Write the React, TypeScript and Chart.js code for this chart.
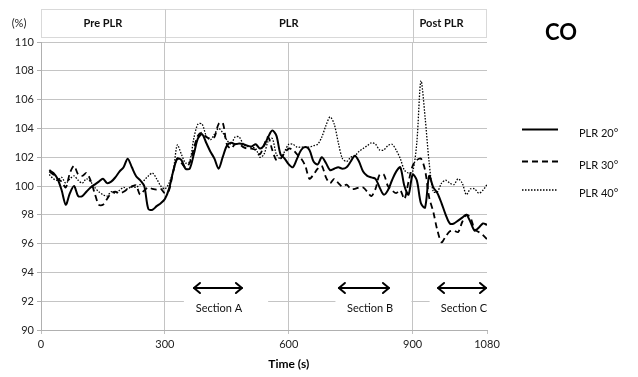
import { useEffect, useRef } from 'react';
import { Chart, registerables } from 'chart.js';

Chart.register(...registerables);

// ---- data ----
const times = [
  20, 30, 40, 50, 60, 70, 80, 90, 100, 110,
  120, 130, 140, 150, 160, 170, 180, 190, 200, 210,
  220, 230, 240, 250, 260, 270, 280, 290, 300, 310,
  320, 330, 340, 350, 360, 370, 380, 390, 400, 410,
  420, 430, 440, 450, 460, 470, 480, 490, 500, 510,
  520, 530, 540, 550, 560, 570, 580, 590, 600, 610,
  620, 630, 640, 650, 660, 670, 680, 690, 700, 710,
  720, 730, 740, 750, 760, 770, 780, 790, 800, 810,
  820, 830, 840, 850, 860, 870, 880, 890, 900, 910,
  920, 930, 940, 950, 960, 970, 980, 990, 1000, 1010,
  1020, 1030, 1040, 1050, 1060, 1070, 1080,
];

const plr20 = [
  101.1, 100.9, 100.5, 99.7, 98.7, 99.5, 100.0, 99.3, 99.3, 99.6,
  99.9, 100.1, 100.3, 100.5, 100.2, 100.3, 100.6, 101.0, 101.3, 101.9,
  101.3, 100.7, 100.4, 100.0, 98.4, 98.35, 98.6, 98.8, 99.1, 99.8,
  101.0, 101.9, 101.8, 101.2, 101.2, 102.2, 103.3, 103.6, 103.0, 102.4,
  101.9, 101.2, 102.0, 102.8, 103.0, 102.9, 102.95, 102.9, 102.8, 102.75,
  102.9, 102.6, 102.8, 103.4, 103.85, 103.5, 102.2, 101.9, 101.5, 101.3,
  101.9, 102.5, 102.7, 102.5, 101.7, 101.5, 102.0, 101.6, 101.1, 101.2,
  101.3, 101.2, 101.3, 101.7, 102.1, 101.7, 101.0, 100.7, 100.6, 100.5,
  99.9, 99.4, 99.7, 100.4, 101.0, 101.3, 100.0, 99.4, 100.8, 100.4,
  98.8, 98.5, 100.7, 99.9, 99.5, 98.8, 98.0, 97.4, 97.4, 97.6,
  97.8, 98.0, 97.5, 96.9, 97.1, 97.4, 97.3,
];

const plr30 = [
  101.0, 100.8, 100.5, 100.3, 99.9, 100.9, 101.4, 100.8, 100.7, 100.9,
  100.4, 99.5, 98.7, 98.7, 99.1, 99.5, 99.6, 99.5, 99.6, 99.8,
  99.95, 100.05, 99.4, 99.7, 99.9, 99.8, 99.75, 99.8, 99.5, 99.7,
  101.0, 101.9, 101.6, 101.3, 101.6, 102.6, 103.5, 103.7, 103.4, 103.3,
  103.4, 104.3, 104.4, 102.9, 102.6, 102.9, 102.9, 102.7, 102.6, 102.6,
  102.5, 102.2, 102.85, 103.4, 102.5, 101.8, 101.9, 102.3, 102.6, 102.5,
  102.2, 101.9, 101.4, 100.5, 100.8, 101.2, 101.4, 100.6, 100.2, 100.5,
  100.2, 99.95, 100.1, 99.8, 99.8, 99.9, 99.9, 99.6, 99.3, 99.8,
  100.8, 100.8, 100.0, 99.7, 99.5, 99.7, 99.1, 100.3, 101.4, 101.8,
  101.9, 101.1, 99.2, 98.2, 96.9, 96.1, 96.5, 96.85, 96.9, 96.8,
  97.5, 98.0, 97.8, 97.0, 96.8, 96.6, 96.3,
];

const plr40 = [
  100.8, 100.5, 100.4, 100.6, 100.2, 100.5, 100.7, 100.4, 100.2, 100.5,
  100.3, 99.9, 99.6, 99.4, 99.3, 99.6, 99.5, 99.7, 99.9, 99.8,
  100.0, 99.9, 100.1, 100.4, 100.7, 100.9, 100.5, 100.0, 99.8, 100.2,
  101.0, 102.85, 102.2, 101.6, 101.7, 103.3, 104.3, 104.3, 103.5, 103.2,
  103.6, 104.0, 103.7, 103.2, 102.9, 103.4, 103.4, 102.9, 102.75, 102.7,
  102.6, 102.0, 102.2, 103.1, 103.3, 102.2, 101.9, 102.4, 102.9, 102.9,
  102.7, 102.7, 102.7, 102.7, 102.8, 102.9, 103.4, 104.2, 104.8, 104.3,
  103.0, 101.9, 101.7, 102.0, 102.1, 102.4, 102.6, 102.8, 103.0, 102.9,
  102.5, 102.5, 102.8, 102.9, 102.5, 101.9, 101.1, 100.9, 101.0, 103.0,
  107.3, 104.8, 101.6, 99.6, 99.6, 100.2, 100.4, 100.2, 100.1, 100.5,
  100.2, 99.4, 99.8, 99.8, 99.5, 99.7, 100.1,
];

const seriesLabels = ['PLR 20°', 'PLR 30°', 'PLR 40°'];
const xTicks = [0, 300, 600, 900, 1080];
const xGridAt = [300, 600, 900];
const phaseBounds = [300, 900];
const phaseLabels = ['Pre PLR', 'PLR', 'Post PLR'];
const phaseLabelAt = [150, 600, 970];
const sectionLabels = ['Section A', 'Section B', 'Section C'];
const sectionStart = [368, 719, 959];
const sectionEnd = [489, 845, 1080];
const sectionLabelAt = [431, 797, 1024];
const sectionBoxStart = [346, 713, 941];
const sectionBoxEnd = [550, 897, 1110];
const sectionArrowY = 92.9;
const sectionBoxY = 92;

const FONT = 'Lato, "Liberation Sans", "DejaVu Sans", sans-serif';
const styles = [
  { width: 2, dash: [] as number[] },
  { width: 1.8, dash: [6, 4] },
  { width: 1.3, dash: [1.5, 1.5] },
];

const overlay = {
  id: 'overlay',
  beforeDatasetsDraw(chart: any) {
    const { ctx, scales } = chart;
    const x = scales.x;
    const y = scales.y;
    ctx.save();
    ctx.fillStyle = '#ffffff';
    const yc = y.getPixelForValue(sectionBoxY);
    for (let i = 0; i < sectionLabels.length; i++) {
      const x0 = x.getPixelForValue(sectionBoxStart[i]);
      const x1 = Math.min(x.getPixelForValue(sectionBoxEnd[i]), chart.width);
      ctx.fillRect(x0, yc - 9, x1 - x0, 24);
    }
    ctx.restore();
  },
  afterDraw(chart: any) {
    const { ctx, scales, chartArea } = chart;
    const x = scales.x;
    const y = scales.y;
    ctx.save();
    // header box
    const hTop = 9.5;
    const hBot = 37.5;
    ctx.strokeStyle = '#d9d9d9';
    ctx.lineWidth = 1;
    ctx.strokeRect(chartArea.left + 0.5, hTop, chartArea.right - chartArea.left - 1, hBot - hTop);
    for (const b of phaseBounds) {
      const px = Math.round(x.getPixelForValue(b)) + 0.5;
      ctx.strokeStyle = '#c8c8c8';
      ctx.lineWidth = 1;
      ctx.beginPath();
      ctx.moveTo(px, hTop);
      ctx.lineTo(px, chartArea.top);
      ctx.stroke();
    }
    ctx.fillStyle = '#111';
    ctx.textAlign = 'center';
    ctx.textBaseline = 'middle';
    ctx.font = `bold 11px ${FONT}`;
    phaseLabels.forEach((l, i) => {
      ctx.fillText(l, x.getPixelForValue(phaseLabelAt[i]), 23);
    });
    // (%)
    ctx.font = `11px ${FONT}`;
    ctx.fillStyle = '#222';
    ctx.fillText('(%)', 19, 23);
    // title
    ctx.fillStyle = '#000';
    ctx.font = `bold 22px ${FONT}`;
    ctx.fillText('CO', 561, 33);
    // axis title
    ctx.font = `bold 12px ${FONT}`;
    ctx.fillText('Time (s)', x.getPixelForValue(600), 364);
    // legend
    const ly = [129.5, 161.5, 190];
    seriesLabels.forEach((l, i) => {
      ctx.save();
      ctx.strokeStyle = '#000';
      ctx.lineWidth = styles[i].width;
      ctx.setLineDash(styles[i].dash);
      ctx.beginPath();
      ctx.moveTo(522, ly[i]);
      ctx.lineTo(558, ly[i]);
      ctx.stroke();
      ctx.restore();
      ctx.fillStyle = '#111';
      ctx.font = `11px ${FONT}`;
      ctx.textAlign = 'left';
      ctx.fillText(l, 579, ly[i] + 3.5);
    });
    // sections
    const ay = Math.round(y.getPixelForValue(sectionArrowY));
    const ty = y.getPixelForValue(sectionBoxY) + 7;
    ctx.strokeStyle = '#000';
    ctx.lineWidth = 2;
    ctx.lineCap = 'round';
    ctx.lineJoin = 'round';
    sectionLabels.forEach((l, i) => {
      const x0 = x.getPixelForValue(sectionStart[i]);
      const x1 = x.getPixelForValue(sectionEnd[i]);
      ctx.beginPath();
      ctx.moveTo(x0 + 1, ay);
      ctx.lineTo(x1 - 1, ay);
      ctx.stroke();
      ctx.beginPath();
      ctx.moveTo(x0 + 7, ay - 5);
      ctx.lineTo(x0 + 1, ay);
      ctx.lineTo(x0 + 7, ay + 5);
      ctx.stroke();
      ctx.beginPath();
      ctx.moveTo(x1 - 7, ay - 5);
      ctx.lineTo(x1 - 1, ay);
      ctx.lineTo(x1 - 7, ay + 5);
      ctx.stroke();
      ctx.fillStyle = '#111';
      ctx.font = `11px ${FONT}`;
      ctx.textAlign = 'center';
      ctx.textBaseline = 'middle';
      ctx.fillText(l, x.getPixelForValue(sectionLabelAt[i]), ty);
    });
    ctx.restore();
  },
};

export default function App() {
  const ref = useRef<HTMLCanvasElement>(null);
  useEffect(() => {
    const series = [plr20, plr30, plr40];
    const chart = new Chart(ref.current as HTMLCanvasElement, {
      type: 'line',
      data: {
        datasets: series.map((s, i) => ({
          label: seriesLabels[i],
          data: times.map((t, j) => ({ x: t, y: s[j] })),
          borderColor: '#000',
          borderWidth: styles[i].width,
          borderDash: styles[i].dash,
          pointRadius: 0,
          tension: 0.3,
          fill: false,
        })),
      },
      options: {
        responsive: false,
        animation: false,
        layout: { padding: { left: 0, right: 151, top: 42, bottom: 0 } },
        plugins: { legend: { display: false }, tooltip: { enabled: false } },
        scales: {
          x: {
            type: 'linear',
            min: 0,
            max: 1080,
            afterBuildTicks: (s: any) => {
              s.ticks = xTicks.map((v) => ({ value: v }));
            },
            afterFit: (s: any) => {
              s.height = 47;
            },
            grid: {
              color: (c: any) =>
                c.tick && xGridAt.includes(c.tick.value) ? '#c4c4c4' : 'rgba(0,0,0,0)',
              lineWidth: 1,
              tickColor: '#c0c0c0',
              tickLength: 4,
            },
            border: { color: '#b0b0b0' },
            ticks: {
              autoSkip: false,
              maxRotation: 0,
              padding: 4,
              color: '#222',
              font: { family: FONT, size: 11 },
              callback: (v: any) => String(v),
            },
          },
          y: {
            min: 90,
            max: 110,
            afterFit: (s: any) => {
              s.width = 41;
            },
            grid: { color: '#c4c4c4', tickColor: '#b0b0b0', tickLength: 4 },
            border: { color: '#b0b0b0' },
            ticks: {
              stepSize: 2,
              padding: 3,
              color: '#222',
              font: { family: FONT, size: 11 },
            },
          },
        },
      },
      plugins: [overlay],
    } as any);
    return () => chart.destroy();
  }, []);
  return (
    <div style={{ position: 'fixed', left: 0, top: 0, width: 638, height: 377, background: '#fff' }}>
      <canvas ref={ref} width={638} height={377} style={{ display: 'block', width: 638, height: 377 }} />
    </div>
  );
}
